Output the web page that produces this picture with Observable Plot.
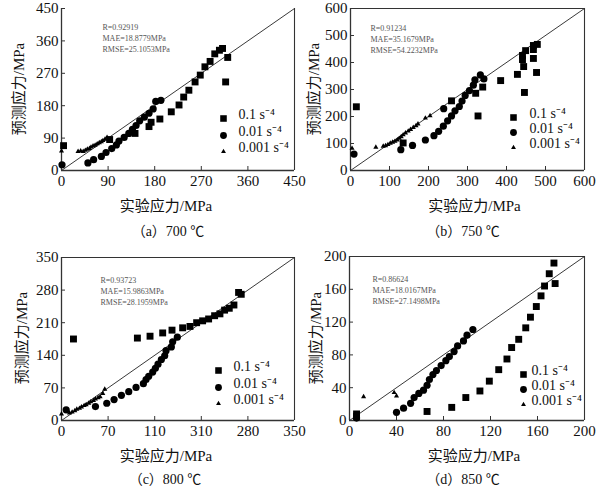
<!DOCTYPE html>
<html>
<head>
<meta charset="utf-8">
<script src="https://cdn.jsdelivr.net/npm/d3@7"></script>
<script src="https://cdn.jsdelivr.net/npm/@observablehq/plot@0.6"></script>
<style>
  html, body { margin: 0; padding: 0; background: #fff; }
  #root { position: relative; width: 597px; height: 486px; overflow: hidden; background: #fff; }
  .panel { position: absolute; }
  .panel svg { overflow: visible; }
  .cap { position: absolute; font-family: "Liberation Serif", "Noto Sans CJK SC", serif; font-size: 14px; color: #111; transform: translate(-50%, -50%); white-space: nowrap; }
  .ytitle { position: absolute; font-family: "Liberation Serif", "Noto Sans CJK SC", serif; font-size: 15px; color: #111; transform: translate(-50%, -50%) rotate(-90deg); white-space: nowrap; }
</style>
</head>
<body>
<div id="root"></div>
<script>
// ---------- data ----------
const rates = ["0.1 s⁻⁴", "0.01 s⁻⁴", "0.001 s⁻⁴"];
const xTitle = "实验应力/MPa";
const yTitle = "预测应力/MPa";

// (a) 700 ℃
const a_r01 = [[4,69],[93,86],[142,103],[169,122],[173,134],[190,143],[212,163],[227,182],[236,204],[246,223],[258,246],[268,265],[277,288],[287,303],[296,324],[305,334],[311,339],[321,314],[317,246]];
const a_r001 = [[1,16],[51,21],[62,30],[77,39],[86,50],[97,61],[106,71],[111,82],[121,92],[130,103],[137,114],[144,125],[151,138],[160,148],[169,159],[177,171],[182,192],[192,195]];
const a_r0001 = [[0,54],[32,53],[37,54],[42,53],[46,56],[50,59],[54,61],[57,65],[61,68],[65,70],[69,74],[73,77],[77,80],[80,83],[84,87],[88,92]];
const a_stats = ["R=0.92919", "MAE=18.8779MPa", "RMSE=25.1053MPa"];
const a_ticks = [0, 90, 180, 270, 360, 450];
const a_tickLabels = ["0", "90", "180", "270", "360", "450"];

// (b) 750 ℃
const b_r01 = [[15,236],[135,102],[259,258],[321,286],[327,202],[339,309],[385,333],[428,356],[441,411],[441,426],[444,385],[446,289],[449,444],[469,448],[469,463],[469,415],[477,363],[479,467]];
const b_r001 = [[9,61],[129,77],[159,93],[192,113],[214,129],[226,145],[238,164],[249,184],[259,202],[268,221],[279,237],[286,257],[294,278],[305,296],[315,316],[319,336],[333,354],[342,339],[239,229]];
const b_r0001 = [[4,82],[65,86],[84,90],[90,92],[96,96],[102,101],[108,105],[114,108],[120,113],[125,119],[130,125],[135,132],[141,139],[148,146],[154,152],[161,159],[168,166],[173,172],[192,194],[204,203]];
const b_stats = ["R=0.91234", "MAE=35.1679MPa", "RMSE=54.2232MPa"];
const b_ticks = [0, 100, 200, 300, 400, 500, 600];
const b_tickLabels = ["0", "100", "200", "300", "400", "500", "600"];

// (c) 800 ℃
const c_r01 = [[18,175],[114,177],[133,181],[152,188],[166,194],[182,199],[193,202],[203,210],[212,214],[221,218],[230,225],[238,229],[245,237],[252,241],[259,248],[266,275],[270,271]];
const c_r001 = [[7,23],[51,30],[68,37],[79,45],[90,54],[101,62],[112,71],[123,79],[127,88],[131,95],[137,104],[141,112],[145,121],[150,131],[155,139],[157,150],[165,158],[167,169],[174,179]];
const c_r0001 = [[0,14],[12,16],[16,18],[20,21],[23,24],[27,26],[30,29],[34,32],[37,34],[41,37],[44,40],[48,43],[51,46],[55,49],[58,51],[62,58],[65,67]];
const c_stats = ["R=0.93723", "MAE=15.9863MPa", "RMSE=28.1959MPa"];
const c_ticks = [0, 70, 140, 210, 280, 350];
const c_xTickLabels = ["0", "70", "110", "310", "280", "350"];
const c_yTickLabels = ["0", "70", "140", "210", "280", "350"];

// (d) 850 ℃
const d_r01 = [[6,8],[6,5],[66,11],[87,16],[99,28],[111,36],[119,48],[127,62],[134,75],[138,89],[144,99],[150,113],[154,126],[159,139],[163,152],[166,164],[170,179],[174,192],[175,167]];
const d_r001 = [[6,3],[40,10],[46,15],[52,21],[55,28],[59,33],[63,37],[66,43],[68,50],[71,56],[74,61],[78,67],[82,73],[85,78],[89,84],[92,91],[97,97],[100,104],[105,111]];
const d_r0001 = [[12,29],[38,34],[40,30]];
const d_stats = ["R=0.86624", "MAE=18.0167MPa", "RMSE=27.1498MPa"];
const d_ticks = [0, 40, 80, 120, 160, 200];
const d_tickLabels = ["0", "40", "80", "120", "160", "200"];

const captions = ["（a）700 ℃", "（b）750 ℃", "（c）800 ℃", "（d）850 ℃"];

// ---------- layout / style ----------
const FONT = '"Liberation Serif", "Times New Roman", "Noto Sans CJK SC", serif';
const symbolsStyle = [
  {symbol: "square", r: 3.9},
  {symbol: "circle", r: 3.6},
  {symbol: "triangle", r: 1.9}
];

const panels = [
  {series: [a_r01, a_r001, a_r0001], stats: a_stats, ticks: a_ticks, xl: a_tickLabels, yl: a_tickLabels, cap: captions[0],
   left: 0, top: 0, width: 298, height: 222, ml: 61, mr: 4, mt: 8, mb: 52, top_frame: false,
   ytX: 17, ytY: 89, xtdx: -12, sdx: 41, sdy: 14, lmx: -71, ltx: -56, lrows: [-52, -35, -19], capX: 168, capY: 230},
  {series: [b_r01, b_r001, b_r0001], stats: b_stats, ticks: b_ticks, xl: b_tickLabels, yl: b_tickLabels, cap: captions[1],
   left: 297, top: 0, width: 300, height: 222, ml: 53, mr: 13, mt: 8, mb: 52, top_frame: true,
   ytX: 312, ytY: 89, xtdx: 7, sdx: 20, sdy: 15, lmx: -71, ltx: -55, lrows: [-53, -38, -23], capX: 463, capY: 230},
  {series: [c_r01, c_r001, c_r0001], stats: c_stats, ticks: c_ticks, xl: c_xTickLabels, yl: c_yTickLabels, cap: captions[2],
   left: 0, top: 240, width: 298, height: 226, ml: 61, mr: 4, mt: 17, mb: 46, top_frame: true,
   ytX: 20, ytY: 338, xtdx: -12, sdx: 39, sdy: 18, lmx: -76, ltx: -61, lrows: [-50, -33, -17], capX: 165, capY: 478},
  {series: [d_r01, d_r001, d_r0001], stats: d_stats, ticks: d_ticks, xl: d_tickLabels, yl: d_tickLabels, cap: captions[3],
   left: 297, top: 240, width: 300, height: 226, ml: 52, mr: 13, mt: 16, mb: 46, top_frame: true,
   ytX: 314, ytY: 338, xtdx: 7, sdx: 23, sdy: 18, lmx: -61, ltx: -53, lrows: [-46, -31, -16], capX: 463, capY: 478}
];

const root = document.getElementById("root");

panels.forEach(p => {
  const max = p.ticks[p.ticks.length - 1];
  const rows = [];
  p.series.forEach((s, i) => s.forEach(([x, y]) => rows.push({rate: rates[i], x, y})));
  const marks = [];

  // diagonal y = x across the domain
  marks.push(Plot.line([[0, 0], [max, max]], {stroke: "#222", strokeWidth: 0.9}));
  // frame lines
  marks.push(Plot.ruleX([0], {stroke: "#333", strokeWidth: 1.3}));
  marks.push(Plot.ruleY([0], {stroke: "#333", strokeWidth: 1.3}));
  marks.push(Plot.ruleX([max], {stroke: "#333", strokeWidth: 1.1}));
  if (p.top_frame) marks.push(Plot.ruleY([max], {stroke: "#333", strokeWidth: 1.1}));

  // axes with inward ticks
  marks.push(Plot.axisX(p.ticks, {label: null, tickSize: -4, tickPadding: 9, fontSize: 15, tickFormat: d => p.xl[p.ticks.indexOf(d)], stroke: "#333"}));
  marks.push(Plot.axisY(p.ticks, {label: null, tickSize: -4, tickPadding: 7, fontSize: 15, tickFormat: d => p.yl[p.ticks.indexOf(d)], stroke: "#333"}));

  // data
  rates.forEach((rate, i) => {
    marks.push(Plot.dot(rows.filter(d => d.rate === rate), {x: "x", y: "y", symbol: symbolsStyle[i].symbol, r: symbolsStyle[i].r, fill: "#000", stroke: "none"}));
  });

  // legend inside plot
  rates.forEach((rate, i) => {
    marks.push(Plot.dot([rate], {frameAnchor: "bottom-right", dx: p.lmx, dy: p.lrows[i], symbol: symbolsStyle[i].symbol, r: symbolsStyle[i].r * 0.95, fill: "#000", stroke: "none"}));
    marks.push(Plot.text([rate], {frameAnchor: "bottom-right", dx: p.ltx, dy: p.lrows[i], text: d => d, textAnchor: "start", fontSize: 14, fill: "#111"}));
  });

  // stats
  marks.push(Plot.text([p.stats.join("\n")], {frameAnchor: "top-left", dx: p.sdx, dy: p.sdy, text: d => d, textAnchor: "start", lineAnchor: "top", lineHeight: 1.35, fontSize: 8, fill: "#555"}));

  // x axis title
  marks.push(Plot.text([xTitle], {frameAnchor: "bottom", dx: p.xtdx, dy: 40, text: d => d, fontSize: 15, fill: "#111"}));

  const chart = Plot.plot({
    width: p.width, height: p.height,
    marginLeft: p.ml, marginRight: p.mr, marginTop: p.mt, marginBottom: p.mb,
    x: {domain: [0, max], label: null},
    y: {domain: [0, max], label: null},
    style: {fontFamily: FONT, fontSize: "15px", color: "#111", background: "transparent", overflow: "visible"},
    marks
  });
  const div = document.createElement("div");
  div.className = "panel";
  div.style.left = p.left + "px";
  div.style.top = p.top + "px";
  div.appendChild(chart);
  root.appendChild(div);

  const yt = document.createElement("div");
  yt.className = "ytitle";
  yt.style.left = p.ytX + "px";
  yt.style.top = p.ytY + "px";
  yt.textContent = yTitle;
  root.appendChild(yt);

  const cap = document.createElement("div");
  cap.className = "cap";
  cap.style.left = p.capX + "px";
  cap.style.top = p.capY + "px";
  cap.textContent = p.cap;
  root.appendChild(cap);
});
</script>
</body>
</html>
